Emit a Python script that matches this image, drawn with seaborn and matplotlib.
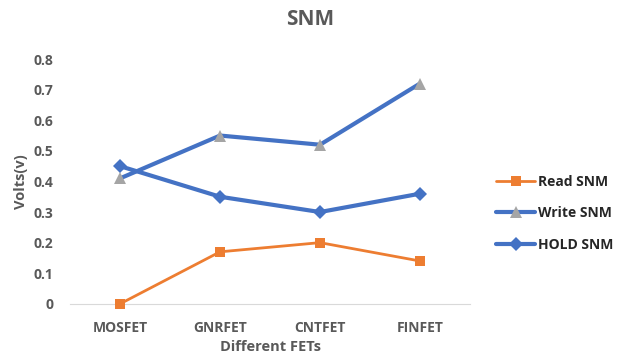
import pandas as pd
import matplotlib.pyplot as plt
import seaborn as sns

fets = ["MOSFET", "GNRFET", "CNTFET", "FINFET"]
read_snm = [0.0, 0.17, 0.20, 0.14]
write_snm = [0.41, 0.55, 0.52, 0.72]
hold_snm = [0.45, 0.35, 0.30, 0.36]

sns.set_style("white")
plt.rcParams['font.family'] = ['Open Sans', 'DejaVu Sans']

df = pd.DataFrame({"fet": fets, "Read SNM": read_snm,
                   "Write SNM": write_snm, "HOLD SNM": hold_snm})

fig = plt.figure(figsize=(6.2, 3.6), dpi=100)
ax = fig.add_axes([0.113, 0.156, 0.645, 0.68])

sns.lineplot(data=df, x="fet", y="Read SNM", ax=ax, color="#ED7D31", lw=2,
             marker="s", markersize=7, markeredgewidth=0, label="Read SNM",
             clip_on=False)
sns.lineplot(data=df, x="fet", y="Write SNM", ax=ax, color="#4472C4", lw=3,
             marker="^", markersize=9, markerfacecolor="#A5A5A5",
             markeredgewidth=0, label="Write SNM", clip_on=False)
sns.lineplot(data=df, x="fet", y="HOLD SNM", ax=ax, color="#4472C4", lw=3,
             marker="D", markersize=7, markeredgewidth=0, label="HOLD SNM",
             clip_on=False)

ax.set_xlim(-0.5, 3.5)
ax.set_ylim(0, 0.8)
ax.set_yticks([0, 0.1, 0.2, 0.3, 0.4, 0.5, 0.6, 0.7, 0.8])
ax.set_yticklabels(["0", "0.1", "0.2", "0.3", "0.4", "0.5", "0.6", "0.7", "0.8"])
for s in ["top", "right", "left"]:
    ax.spines[s].set_visible(False)
ax.spines["bottom"].set_color("#D9D9D9")
ax.spines["bottom"].set_zorder(0)
ax.tick_params(axis="both", length=0, labelsize=10, colors="#595959", pad=12)
for lbl in ax.get_xticklabels() + ax.get_yticklabels():
    lbl.set_fontweight("bold")
ax.set_xlabel("Different FETs", fontsize=10.5, fontweight="bold", color="#595959", labelpad=4)
ax.set_ylabel("Volts(v)", fontsize=10.5, fontweight="bold", color="#595959", labelpad=4)
fig.suptitle("SNM", x=0.5, y=0.975, fontsize=15, fontweight="bold", color="#595959")

ax.legend(loc="center left", bbox_to_anchor=(1.035, 0.37), frameon=False,
          prop={"weight": "bold", "size": 10}, handlelength=2.8, labelspacing=1.25,
          handletextpad=0.2)

fig.savefig("out.png", dpi=100)
